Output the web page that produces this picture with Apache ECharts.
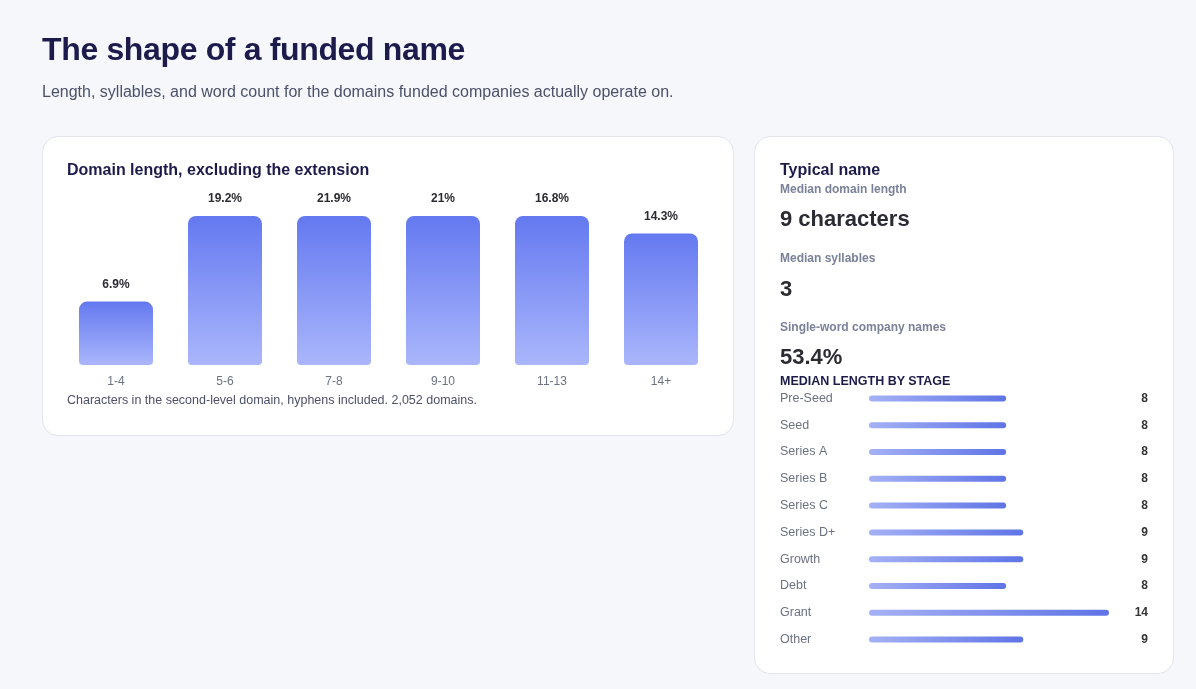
<!DOCTYPE html>
<html>
<head>
<meta charset="utf-8">
<script src="https://cdn.jsdelivr.net/npm/echarts@6/dist/echarts.min.js"></script>
<style>
  html, body { margin: 0; padding: 0; }
  body { width: 1196px; height: 689px; background: #f6f7fb; font-family: "Liberation Sans", Arial, sans-serif; position: relative; overflow: hidden; }
  .card { position: absolute; background: #fff; border: 1px solid #e2e4ee; border-radius: 16px; box-sizing: border-box; }
  #chart { position: absolute; left: 0; top: 0; width: 1196px; height: 689px; }
  .t { position: absolute; white-space: nowrap; }
  h1 { position: absolute; left: 42px; top: 31px; margin: 0; font-size: 32px; font-weight: 700; color: #1c1b4b; letter-spacing: -0.35px; }
  .sub { left: 42px; top: 83px; font-size: 16px; color: #4b5169; }
  .ctitle { font-size: 16px; font-weight: 700; color: #1c1b4b; }
  .lbl { font-size: 12px; font-weight: 700; color: #7a8199; }
  .big { font-size: 22px; font-weight: 700; color: #2b2b33; }
  .note { font-size: 12.5px; color: #4b5169; }
</style>
</head>
<body>
<div class="card" style="left:42px;top:136px;width:692px;height:300px;"></div>
<div class="card" style="left:754px;top:136px;width:420px;height:538px;"></div>
<div id="chart"></div>
<h1>The shape of a funded name</h1>
<div class="t sub">Length, syllables, and word count for the domains funded companies actually operate on.</div>
<div class="t ctitle" style="left:67px;top:161px;">Domain length, excluding the extension</div>
<div class="t note" style="left:67px;top:393px;">Characters in the second-level domain, hyphens included. 2,052 domains.</div>
<div class="t ctitle" style="left:780px;top:161px;">Typical name</div>
<div class="t lbl" style="left:780px;top:182px;">Median domain length</div>
<div class="t big" style="left:780px;top:206px;">9 characters</div>
<div class="t lbl" style="left:780px;top:251px;">Median syllables</div>
<div class="t big" style="left:780px;top:276px;">3</div>
<div class="t lbl" style="left:780px;top:320px;">Single-word company names</div>
<div class="t big" style="left:780px;top:344px;">53.4%</div>
<div class="t ctitle" style="left:780px;top:374px;font-size:12.5px;">MEDIAN LENGTH BY STAGE</div>
<script>
// domain length buckets (share of domains, %)
var lengthBuckets = ['1-4', '5-6', '7-8', '9-10', '11-13', '14+'];
var lengthShare = [6.9, 19.2, 21.9, 21, 16.8, 14.3];

// median length by funding stage
var stages = ['Pre-Seed', 'Seed', 'Series A', 'Series B', 'Series C', 'Series D+', 'Growth', 'Debt', 'Grant', 'Other'];
var stageMedian = [8, 8, 8, 8, 8, 9, 9, 8, 14, 9];

var chart = echarts.init(document.getElementById('chart'));

var option = {
    animation: false,
    textStyle: { fontFamily: 'Liberation Sans, Arial, sans-serif' },
    grid: [
        { left: 61.5, right: 480.5, top: 216, bottom: 324 },
        { left: 869, right: 87, top: 385, height: 268 }
    ],
    xAxis: [
        {
            gridIndex: 0, type: 'category', data: lengthBuckets,
            axisLine: { show: false }, axisTick: { show: false },
            axisLabel: { color: '#6b7280', fontSize: 12, margin: 11 }
        },
        {
            gridIndex: 1, type: 'value', min: 0, max: 14, show: false
        }
    ],
    yAxis: [
        // tall bars run past the top of the plot and get cut off
        { gridIndex: 0, type: 'value', min: 0, max: 16.2, show: false },
        {
            gridIndex: 1, type: 'category', data: stages, inverse: true,
            axisLine: { show: false }, axisTick: { show: false },
            axisLabel: { color: '#6b7280', fontSize: 12.5, align: 'left', margin: 89 }
        },
        {
            gridIndex: 1, type: 'category', data: stageMedian.map(String), inverse: true, position: 'right',
            axisLine: { show: false }, axisTick: { show: false },
            axisLabel: { color: '#333', fontSize: 12, fontWeight: 'bold', align: 'right', margin: 39 }
        }
    ],
    series: [
        {
            type: 'bar', xAxisIndex: 0, yAxisIndex: 0,
            data: lengthShare, barWidth: 74, clip: true,
            itemStyle: {
                borderRadius: [8, 8, 4, 4],
                color: new echarts.graphic.LinearGradient(0, 0, 0, 1, [
                    { offset: 0, color: '#6479f0' },
                    { offset: 1, color: '#aab6fb' }
                ])
            },
            label: {
                show: true, position: 'top', distance: 11,
                formatter: '{c}%', color: '#2b2b33', fontSize: 12, fontWeight: 'bold'
            }
        },
        {
            type: 'bar', xAxisIndex: 1, yAxisIndex: 1,
            data: stageMedian, barWidth: 6,
            itemStyle: {
                borderRadius: 3,
                color: new echarts.graphic.LinearGradient(0, 0, 1, 0, [
                    { offset: 0, color: '#a5b1f5' },
                    { offset: 1, color: '#5f74e6' }
                ])
            }
        }
    ]
};

chart.setOption(option);
</script>
</body>
</html>
